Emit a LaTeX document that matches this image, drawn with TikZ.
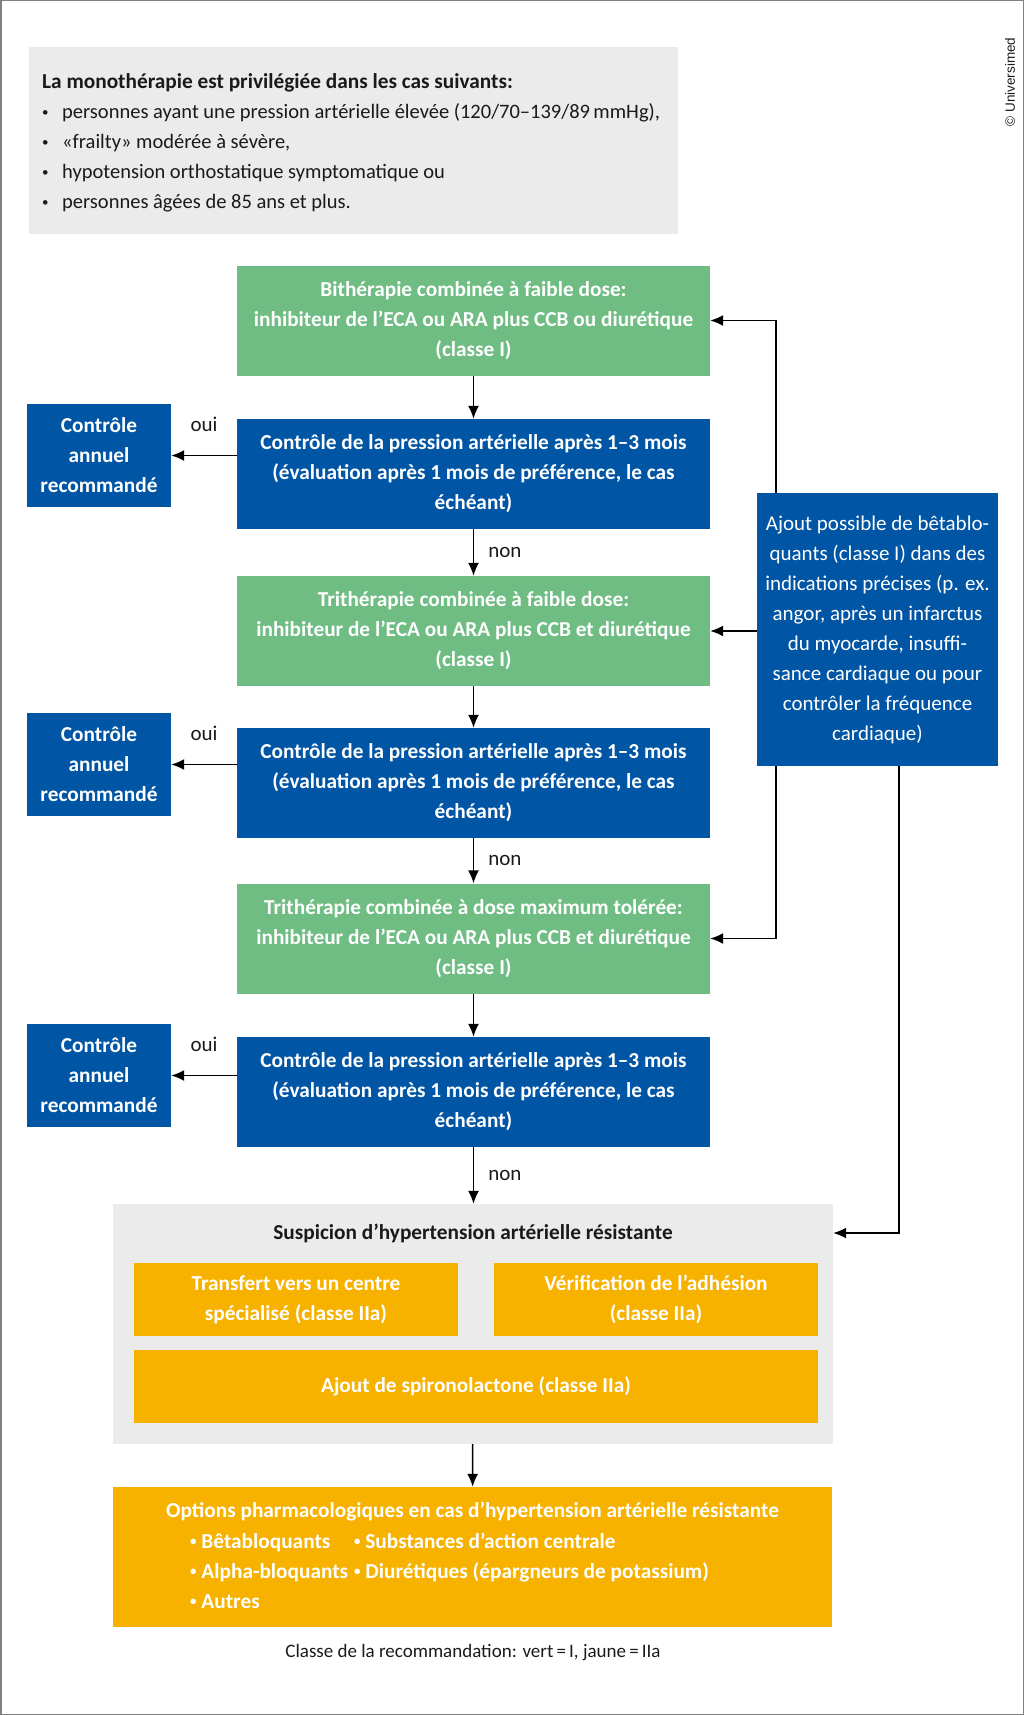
\documentclass[tikz,border=0pt]{standalone}
\usepackage{fontspec}
\setmainfont{Carlito}
\newfontfamily\copyfont{Liberation Sans}
\usetikzlibrary{arrows.meta}
\definecolor{thgreen}{RGB}{112,189,132}
\definecolor{thblue}{RGB}{0,85,165}
\definecolor{thorange}{RGB}{247,178,0}
\definecolor{thgray}{RGB}{235,235,235}
\definecolor{thtext}{RGB}{26,26,26}
\newcommand{\smbul}{{\fontsize{13}{13}\selectfont\raisebox{2.5pt}{•}}}
\newcommand{\bul}{\makebox[20pt][l]{\smbul}}
\begin{document}
\begin{tikzpicture}[x=1pt, y=-1pt,
    box/.style={inner sep=0pt, align=center, text=white, font=\bfseries\fontsize{21.3}{30}\selectfont},
    greenbox/.style={box, fill=thgreen, minimum width=473pt, minimum height=110pt},
    bluebox/.style={box, fill=thblue, minimum width=473pt, minimum height=110pt},
    smallbox/.style={box, fill=thblue, minimum width=144pt, minimum height=103pt},
    orangebox/.style={box, fill=thorange, minimum height=73pt},
    lbl/.style={inner sep=0pt, text=thtext, font=\fontsize{21}{30}\selectfont},
    arr/.style={line width=1.5pt, -{Latex[length=13pt,width=11pt]}}]
  \useasboundingbox (0,0) rectangle (1024,1715);
  \draw[gray, line width=1.5pt] (0.75,0.75) rectangle (1023.25,1714.25);

  % monotherapie
  \node[fill=thgray, minimum width=649pt, minimum height=187pt, inner sep=0pt] (mono) at (353.5,140.5) {};
  \node[lbl, anchor=west, align=left, font=\fontsize{20.5}{30}\selectfont] (monotxt) at (42,143) {\textbf{\fontsize{21.3}{30}\selectfont La monothérapie est privilégiée dans les cas suivants:}\\
    \bul personnes ayant une pression artérielle élevée (120/70–139/89\,mmHg),\\
    \bul «frailty» modérée à sévère,\\
    \bul hypotension orthostatique symptomatique ou\\
    \bul personnes âgées de 85 ans et plus.};
  \node[rotate=90, text=thtext, font=\copyfont\fontsize{13.5}{15}\selectfont] (copy) at (1010,82) {© Universimed};

  % main column
  \node[greenbox] (g1) at (473.5,320.5) {Bithérapie combinée à faible dose:\\ inhibiteur de l’ECA ou ARA plus CCB ou diurétique\\ (classe I)};
  \node[bluebox] (b1) at (473.5,474) {Contrôle de la pression artérielle après 1–3 mois\\ (évaluation après 1 mois de préférence, le cas\\ échéant)};
  \node[greenbox] (g2) at (473.5,631) {Trithérapie combinée à faible dose:\\ inhibiteur de l’ECA ou ARA plus CCB et diurétique\\ (classe I)};
  \node[bluebox] (b2) at (473.5,783) {Contrôle de la pression artérielle après 1–3 mois\\ (évaluation après 1 mois de préférence, le cas\\ échéant)};
  \node[greenbox] (g3) at (473.5,938.5) {Trithérapie combinée à dose maximum tolérée:\\ inhibiteur de l’ECA ou ARA plus CCB et diurétique\\ (classe I)};
  \node[bluebox] (b3) at (473.5,1092) {Contrôle de la pression artérielle après 1–3 mois\\ (évaluation après 1 mois de préférence, le cas\\ échéant)};

  \node[smallbox] (c1) at (99,455.5) {Contrôle\\ annuel\\ recommandé};
  \node[smallbox] (c2) at (99,764.5) {Contrôle\\ annuel\\ recommandé};
  \node[smallbox] (c3) at (99,1075.5) {Contrôle\\ annuel\\ recommandé};

  \node[box, fill=thblue, minimum width=241pt, minimum height=273pt, font=\fontsize{21}{30}\selectfont] (side) at (877.5,629.5)
    {Ajout possible de bêtablo-\\ quants (classe I) dans des\\ indications précises (p. ex.\\ angor, après un infarctus\\ du myocarde, insuffi-\\ sance cardiaque ou pour\\ contrôler la fréquence\\ cardiaque)};

  % resistant hypertension
  \node[fill=thgray, minimum width=720pt, minimum height=240pt, inner sep=0pt] (susp) at (473,1324) {};
  \node[lbl, font=\bfseries\fontsize{21.3}{30}\selectfont] (susptitle) at (473,1233) {Suspicion d’hypertension artérielle résistante};
  \node[orangebox, minimum width=324pt] (o1) at (296,1299.5) {Transfert vers un centre\\ spécialisé (classe IIa)};
  \node[orangebox, minimum width=324pt] (o2) at (656,1299.5) {Vérification de l’adhésion\\ (classe IIa)};
  \node[orangebox, minimum width=684pt] (o3) at (476,1386.5) {Ajout de spironolactone (classe IIa)};

  \node[orangebox, minimum width=719pt, minimum height=140pt] (final) at (472.5,1557) {};
  \node[box] (finaltitle) at (472.5,1512) {Options pharmacologiques en cas d’hypertension artérielle résistante};
  \node[box, anchor=north west, align=left] (finallist) at (190,1527) {%
    \begin{tabular}{@{}l@{\hspace{6pt}}l@{}}
      \smbul\ Bêtabloquants & \smbul\ Substances d’action centrale\\
      \smbul\ Alpha-bloquants & \smbul\ Diurétiques (épargneurs de potassium)\\
      \smbul\ Autres &
    \end{tabular}};

  \node[lbl, font=\fontsize{19}{30}\selectfont] (legend) at (473,1653) {Classe de la recommandation: vert\,=\,I, jaune\,=\,IIa};

  % connectors
  \draw[arr] (g1) -- (b1);
  \draw[arr] (b1) -- node[lbl, right=14pt] {non} (g2);
  \draw[arr] (g2) -- (b2);
  \draw[arr] (b2) -- node[lbl, right=14pt] {non} (g3);
  \draw[arr] (g3) -- (b3);
  \draw[arr] (b3.south) -- node[lbl, right=14pt] {non} (b3.south |- susp.north);
  \draw[arr] (susp) -- (final);

  \draw[arr] (c1.east -| b1.west) -- node[lbl, yshift=31pt] {oui} (c1.east);
  \draw[arr] (c2.east -| b2.west) -- node[lbl, yshift=31pt] {oui} (c2.east);
  \draw[arr] (c3.east -| b3.west) -- node[lbl, yshift=31pt] {oui} (c3.east);

  \coordinate (lnA) at (776,0);
  \coordinate (lnB) at (899,0);
  \draw[arr] (side.north -| lnA) |- (g1.east);
  \draw[arr] (side.west |- g2.east) -- (g2.east);
  \draw[arr] (side.south -| lnA) |- (g3.east);
  \draw[arr] (side.south -| lnB) |- (susptitle -| susp.east);
\end{tikzpicture}
\end{document}
